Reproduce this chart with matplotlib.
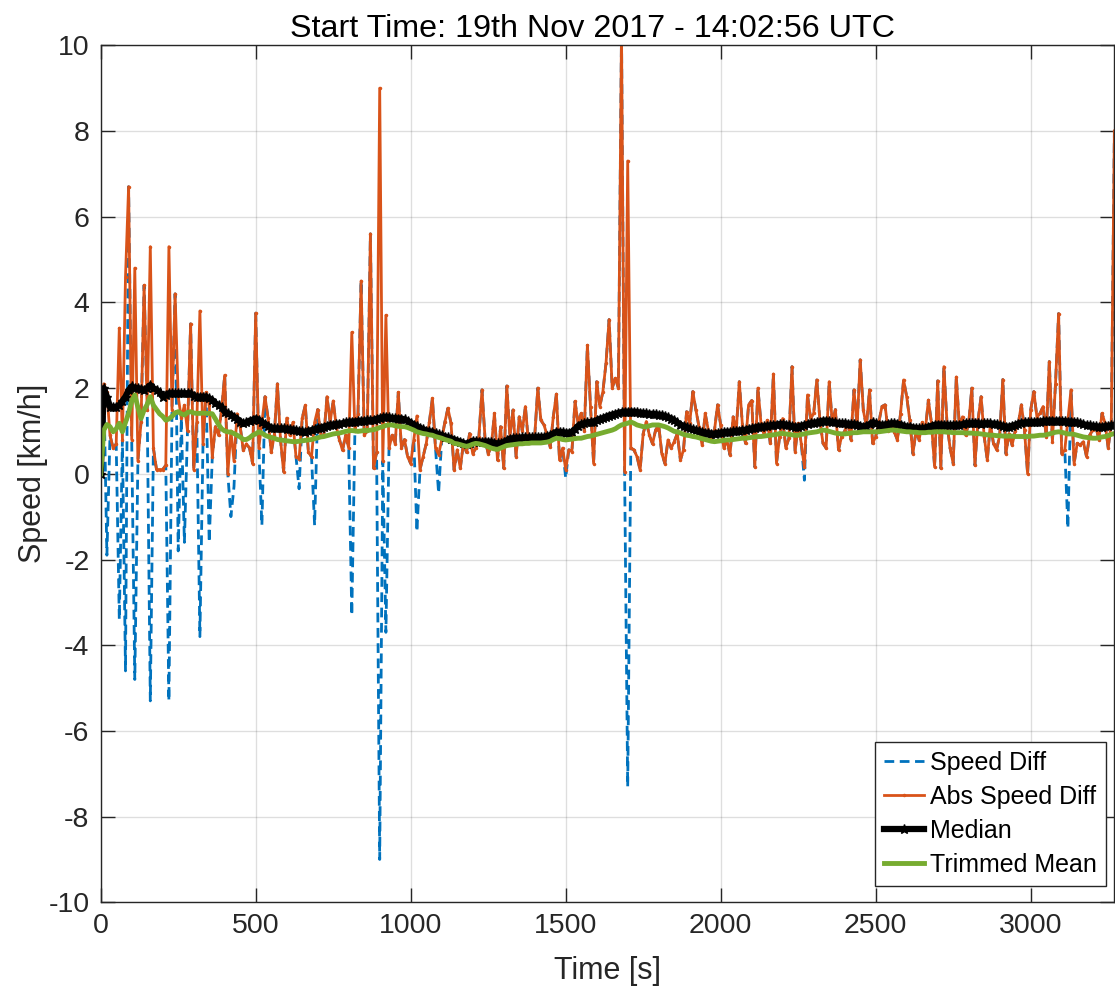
import numpy as np
import matplotlib
matplotlib.use("Agg")
import matplotlib.pyplot as plt

plt.rcParams['font.family'] = ['Liberation Sans', 'DejaVu Sans']
plt.rcParams['axes.unicode_minus'] = False

# samples every 10 s, 0 .. 3270 s
time_s = np.arange(0, 3271, 10)

speed_diff = [
    0.0, 2.1, -1.9, 0.9, 0.6, 0.7, -3.4, 0.8, -4.6, 6.7,
    0.8, -4.8, 0.3, 1.2, 4.4, 1.5, -5.3, 0.6, 0.1, 0.1,
    0.1, 0.2, -5.3, 1.5, 4.2, -1.8, 1.3, -1.6, 1.0, 3.5,
    0.1, 1.2, -3.8, 0.7, 1.9, -1.6, 0.4, 1.1, 0.9, 1.5,
    2.3, 0.0, -1.0, -0.3, 1.4, 1.1, 0.55, 0.7, 0.6, 0.24,
    3.75, 0.6, -1.2, 1.8, 1.3, 0.5, 0.9, 2.1, 0.8, 0.05,
    1.3, 0.9, 1.2, 0.4, -0.35, 1.3, 1.6, 0.5, 0.4, -1.2,
    1.5, 0.9, 0.9, 1.8, 1.2, 1.7, 1.1, 0.8, 0.55, 0.9,
    0.6, -3.3, 1.0, 1.4, 4.5, 0.9, 1.0, 5.6, 0.13, 0.5,
    -9.0, 0.3, -3.7, 0.6, 0.9, 0.7, 1.9, 0.6, 0.8, 0.4,
    0.24, 0.8, -1.35, 0.1, 0.4, 0.7, 1.2, 1.76, 0.6, -0.45,
    0.79, 1.2, 1.53, 1.18, 0.09, 0.56, 0.13, 0.71, 0.5, 0.94,
    0.47, 0.6, 0.87, 1.96, 0.8, 0.47, 0.63, 1.41, 0.32, 1.1,
    0.13, 2.05, 0.87, 1.49, 0.4, 1.33, 1.0, 1.57, 0.71, 0.9,
    0.87, 2.0, 1.25, 1.14, 0.9, 0.63, 1.33, 1.86, 0.32, 0.6,
    -0.1, 0.56, 0.52, 1.69, 1.18, 1.41, 1.0, 3.0, 1.57, 0.24,
    2.15, 1.57, 1.92, 2.58, 3.6, 2.0, 2.23, 2.0, 10.3, 0.05,
    -7.3, 0.6, 0.56, 0.4, 0.09, 0.94, 1.22, 0.9, 0.7, 1.02,
    1.14, 0.47, 0.24, 0.79, 0.6, 0.75, 0.94, 0.32, 0.56, 1.45,
    1.18, 1.92, 1.49, 1.1, 0.67, 1.41, 1.02, 0.8, 1.02, 1.61,
    1.14, 0.6, 0.79, 0.44, 1.33, 0.98, 2.15, 1.14, 0.71, 1.61,
    1.71, 0.16, 2.0, 1.18, 0.9, 1.25, 0.71, 2.33, 0.24, 0.87,
    1.29, 0.6, 0.83, 2.5, 0.52, 1.18, 0.7, -0.15, 1.84, 1.29,
    1.41, 2.19, 1.25, 0.71, 0.6, 2.15, 1.18, 1.5, 0.56, 0.87,
    1.0, 1.18, 0.8, 1.96, 1.1, 2.66, 1.49, 1.1, 1.96, 0.71,
    0.87, 1.2, 1.57, 1.61, 1.0, 1.18, 0.98, 0.79, 1.4, 2.19,
    1.8, 1.25, 0.47, 1.0, 0.79, 1.2, 1.02, 1.72, 1.18, 0.16,
    2.17, 0.13, 2.5, 1.18, 0.6, 0.24, 2.26, 1.1, 1.33, 0.9,
    1.18, 2.0, 0.2, 1.25, 1.8, 0.87, 0.32, 1.18, 0.7, 0.56,
    0.9, 2.2, 0.47, 0.94, 0.67, 1.0, 1.18, 1.61, 1.02, 0.0,
    1.49, 1.92, 1.33, 1.41, 1.57, 0.87, 2.62, 0.75, 2.1, 3.74,
    0.47, 0.56, -1.27, 1.96, 0.24, 0.71, 0.67, 0.75, 0.4, 0.9,
    1.02, 1.1, 0.8, 1.41, 1.18, 0.6, 1.2, 8.0,
]

median_speed = [
    0.0, 2.0, 1.8, 1.56, 1.56, 1.56, 1.6, 1.7, 1.8, 1.95,
    2.04, 2.0, 2.0, 1.98, 1.96, 2.0, 2.07, 2.0, 1.96, 1.9,
    1.8, 1.84, 1.88, 1.88, 1.88, 1.88, 1.88, 1.88, 1.88, 1.88,
    1.82, 1.8, 1.8, 1.8, 1.8, 1.76, 1.72, 1.65, 1.6, 1.56,
    1.45, 1.41, 1.38, 1.33, 1.28, 1.22, 1.18, 1.2, 1.24, 1.26,
    1.29, 1.26, 1.2, 1.16, 1.12, 1.08, 1.06, 1.06, 1.06, 1.06,
    1.05, 1.04, 1.03, 1.02, 1.0, 0.99, 0.98, 1.0, 1.02, 1.04,
    1.06, 1.08, 1.1, 1.12, 1.14, 1.15, 1.16, 1.17, 1.18, 1.2,
    1.21, 1.22, 1.22, 1.23, 1.24, 1.24, 1.25, 1.25, 1.26, 1.28,
    1.3, 1.32, 1.33, 1.32, 1.3, 1.3, 1.29, 1.29, 1.27, 1.24,
    1.19, 1.15, 1.11, 1.07, 1.04, 1.01, 0.99, 0.98, 0.95, 0.92,
    0.9, 0.87, 0.85, 0.82, 0.8, 0.77, 0.75, 0.72, 0.7, 0.73,
    0.77, 0.76, 0.75, 0.75, 0.75, 0.75, 0.74, 0.72, 0.71, 0.71,
    0.74, 0.78, 0.82, 0.83, 0.84, 0.84, 0.85, 0.85, 0.85, 0.85,
    0.85, 0.86, 0.86, 0.86, 0.88, 0.9, 0.94, 0.98, 0.98, 0.97,
    0.96, 0.96, 0.98, 1.04, 1.12, 1.16, 1.18, 1.2, 1.21, 1.22,
    1.25, 1.28, 1.3, 1.33, 1.36, 1.38, 1.4, 1.42, 1.44, 1.45,
    1.45, 1.45, 1.45, 1.44, 1.43, 1.42, 1.41, 1.4, 1.4, 1.39,
    1.38, 1.37, 1.35, 1.32, 1.29, 1.25, 1.2, 1.15, 1.12, 1.09,
    1.06, 1.04, 1.02, 1.0, 0.98, 0.96, 0.95, 0.94, 0.94, 0.95,
    0.96, 0.97, 0.98, 0.98, 0.99, 1.0, 1.01, 1.02, 1.03, 1.05,
    1.06, 1.08, 1.1, 1.1, 1.11, 1.12, 1.13, 1.14, 1.15, 1.16,
    1.16, 1.15, 1.13, 1.11, 1.1, 1.1, 1.12, 1.14, 1.16, 1.18,
    1.19, 1.2, 1.22, 1.24, 1.24, 1.23, 1.21, 1.2, 1.19, 1.18,
    1.18, 1.17, 1.16, 1.16, 1.15, 1.12, 1.1, 1.12, 1.16, 1.2,
    1.18, 1.15, 1.14, 1.15, 1.16, 1.18, 1.18, 1.17, 1.15, 1.12,
    1.1, 1.1, 1.08, 1.07, 1.06, 1.06, 1.07, 1.1, 1.12, 1.14,
    1.15, 1.15, 1.14, 1.14, 1.13, 1.14, 1.15, 1.14, 1.16, 1.18,
    1.18, 1.18, 1.19, 1.18, 1.17, 1.18, 1.18, 1.18, 1.17, 1.16,
    1.14, 1.12, 1.1, 1.1, 1.12, 1.14, 1.17, 1.19, 1.2, 1.2,
    1.21, 1.21, 1.22, 1.22, 1.23, 1.24, 1.24, 1.24, 1.24, 1.24,
    1.23, 1.23, 1.22, 1.22, 1.21, 1.2, 1.18, 1.16, 1.14, 1.13,
    1.12, 1.11, 1.1, 1.1, 1.11, 1.12, 1.13, 1.14,
]

trimmed_mean = [
    0.0, 1.02, 1.15, 1.1, 0.98, 1.05, 1.18, 0.98, 1.2, 1.41,
    1.7, 1.84, 1.55, 1.29, 1.49, 1.62, 1.8, 1.6, 1.5, 1.4,
    1.34, 1.25, 1.28, 1.34, 1.42, 1.45, 1.4, 1.37, 1.43, 1.45,
    1.42, 1.41, 1.41, 1.42, 1.41, 1.41, 1.4, 1.28, 1.15, 1.05,
    1.0, 0.98, 0.97, 0.94, 0.9, 0.86, 0.8, 0.8, 0.84, 0.9,
    0.93, 0.98, 0.95, 0.9, 0.87, 0.85, 0.83, 0.8, 0.79, 0.78,
    0.77, 0.76, 0.75, 0.75, 0.76, 0.77, 0.78, 0.79, 0.8, 0.82,
    0.84, 0.86, 0.87, 0.89, 0.91, 0.93, 0.94, 0.95, 0.97, 0.99,
    1.0, 1.01, 1.0, 0.99, 1.0, 1.01, 1.01, 1.02, 1.03, 1.05,
    1.08, 1.1, 1.13, 1.14, 1.14, 1.12, 1.11, 1.1, 1.1, 1.08,
    1.05, 1.02, 0.98, 0.96, 0.94, 0.93, 0.91, 0.9, 0.87, 0.85,
    0.83, 0.8, 0.78, 0.76, 0.71, 0.7, 0.68, 0.66, 0.64, 0.66,
    0.69, 0.71, 0.7, 0.68, 0.66, 0.63, 0.6, 0.58, 0.57, 0.6,
    0.63, 0.66, 0.67, 0.68, 0.69, 0.7, 0.7, 0.71, 0.71, 0.72,
    0.72, 0.72, 0.72, 0.73, 0.74, 0.76, 0.8, 0.83, 0.82, 0.8,
    0.79, 0.8, 0.81, 0.82, 0.83, 0.83, 0.85, 0.87, 0.88, 0.9,
    0.92, 0.94, 0.96, 0.98, 1.0, 1.02, 1.05, 1.1, 1.14, 1.16,
    1.18, 1.21, 1.18, 1.14, 1.12, 1.1, 1.1, 1.12, 1.14, 1.14,
    1.14, 1.12, 1.1, 1.07, 1.03, 0.99, 0.98, 0.95, 0.92, 0.9,
    0.89, 0.87, 0.86, 0.84, 0.82, 0.8, 0.78, 0.76, 0.75, 0.76,
    0.77, 0.78, 0.79, 0.79, 0.8, 0.81, 0.82, 0.83, 0.83, 0.84,
    0.85, 0.86, 0.87, 0.87, 0.88, 0.89, 0.9, 0.91, 0.92, 0.94,
    0.94, 0.93, 0.92, 0.91, 0.9, 0.9, 0.92, 0.93, 0.95, 0.96,
    0.97, 0.98, 1.0, 1.02, 1.01, 0.99, 0.97, 0.95, 0.94, 0.93,
    0.93, 0.94, 0.95, 0.96, 0.96, 0.97, 0.98, 0.98, 0.98, 0.98,
    0.98, 0.98, 0.99, 1.0, 1.01, 1.02, 1.02, 1.01, 1.0, 0.99,
    0.98, 0.98, 0.97, 0.97, 0.96, 0.96, 0.96, 0.97, 0.97, 0.98,
    0.98, 0.98, 0.98, 0.97, 0.97, 0.96, 0.96, 0.96, 0.96, 0.95,
    0.95, 0.95, 0.94, 0.94, 0.93, 0.92, 0.91, 0.9, 0.9, 0.89,
    0.89, 0.88, 0.88, 0.88, 0.88, 0.87, 0.87, 0.87, 0.87, 0.87,
    0.88, 0.88, 0.89, 0.9, 0.9, 0.91, 0.93, 0.95, 0.97, 0.98,
    0.97, 0.95, 0.93, 0.93, 0.92, 0.9, 0.88, 0.86, 0.85, 0.84,
    0.83, 0.83, 0.84, 0.86, 0.87, 0.89, 0.92, 0.94,
]

title_str = 'Start Time: 19th Nov 2017 - 14:02:56 UTC'

speed_diff = np.array(speed_diff)
abs_speed_diff = np.abs(speed_diff)

fig = plt.figure(figsize=(11.15, 9.89), dpi=100, facecolor='w')
ax = fig.add_axes([100.7 / 1115, 1 - 902.3 / 989, 1013.7 / 1115, 857.0 / 989])

ax.plot(time_s, speed_diff, color='#0072BD', linewidth=2, dashes=(3.5, 2), label='Speed Diff')
ax.plot(time_s, abs_speed_diff, color='#D95319', linewidth=2, marker='.', markersize=3, label='Abs Speed Diff')
ax.plot(time_s, median_speed, color='k', linewidth=4.5, marker='*', markersize=6.5, label='Median')
ax.plot(time_s, trimmed_mean, color='#77AC30', linewidth=3.5, label='Trimmed Mean')

ax.set_xlim(0, 3270)
ax.set_ylim(-10, 10)
ax.set_xticks(np.arange(0, 3001, 500))
ax.set_yticks(np.arange(-10, 11, 2))
ax.grid(True, color='#262626', alpha=0.15, linewidth=1)
ax.set_axisbelow(True)
ax.tick_params(direction='in', length=10, width=1, labelsize=20.5, colors='#262626',
               top=True, right=True, pad=8)
for sp in ax.spines.values():
    sp.set_color('#262626')
    sp.set_linewidth(1)

ax.set_xlabel('Time [s]', fontsize=22, color='#262626', labelpad=12)
ax.set_ylabel('Speed [km/h]', fontsize=22, color='#262626', labelpad=0)
ax.set_title(title_str, fontsize=23.2, x=0.4847, pad=6)

leg = ax.legend(loc='lower right', bbox_to_anchor=(0.9914, 0.0194), borderaxespad=0,
                fontsize=18, fancybox=False, framealpha=1, edgecolor='#262626',
                handlelength=1.6, handletextpad=0.25, labelspacing=0.4, borderpad=0.35)
leg.get_frame().set_linewidth(1)

plt.savefig('out.png', dpi=100)
